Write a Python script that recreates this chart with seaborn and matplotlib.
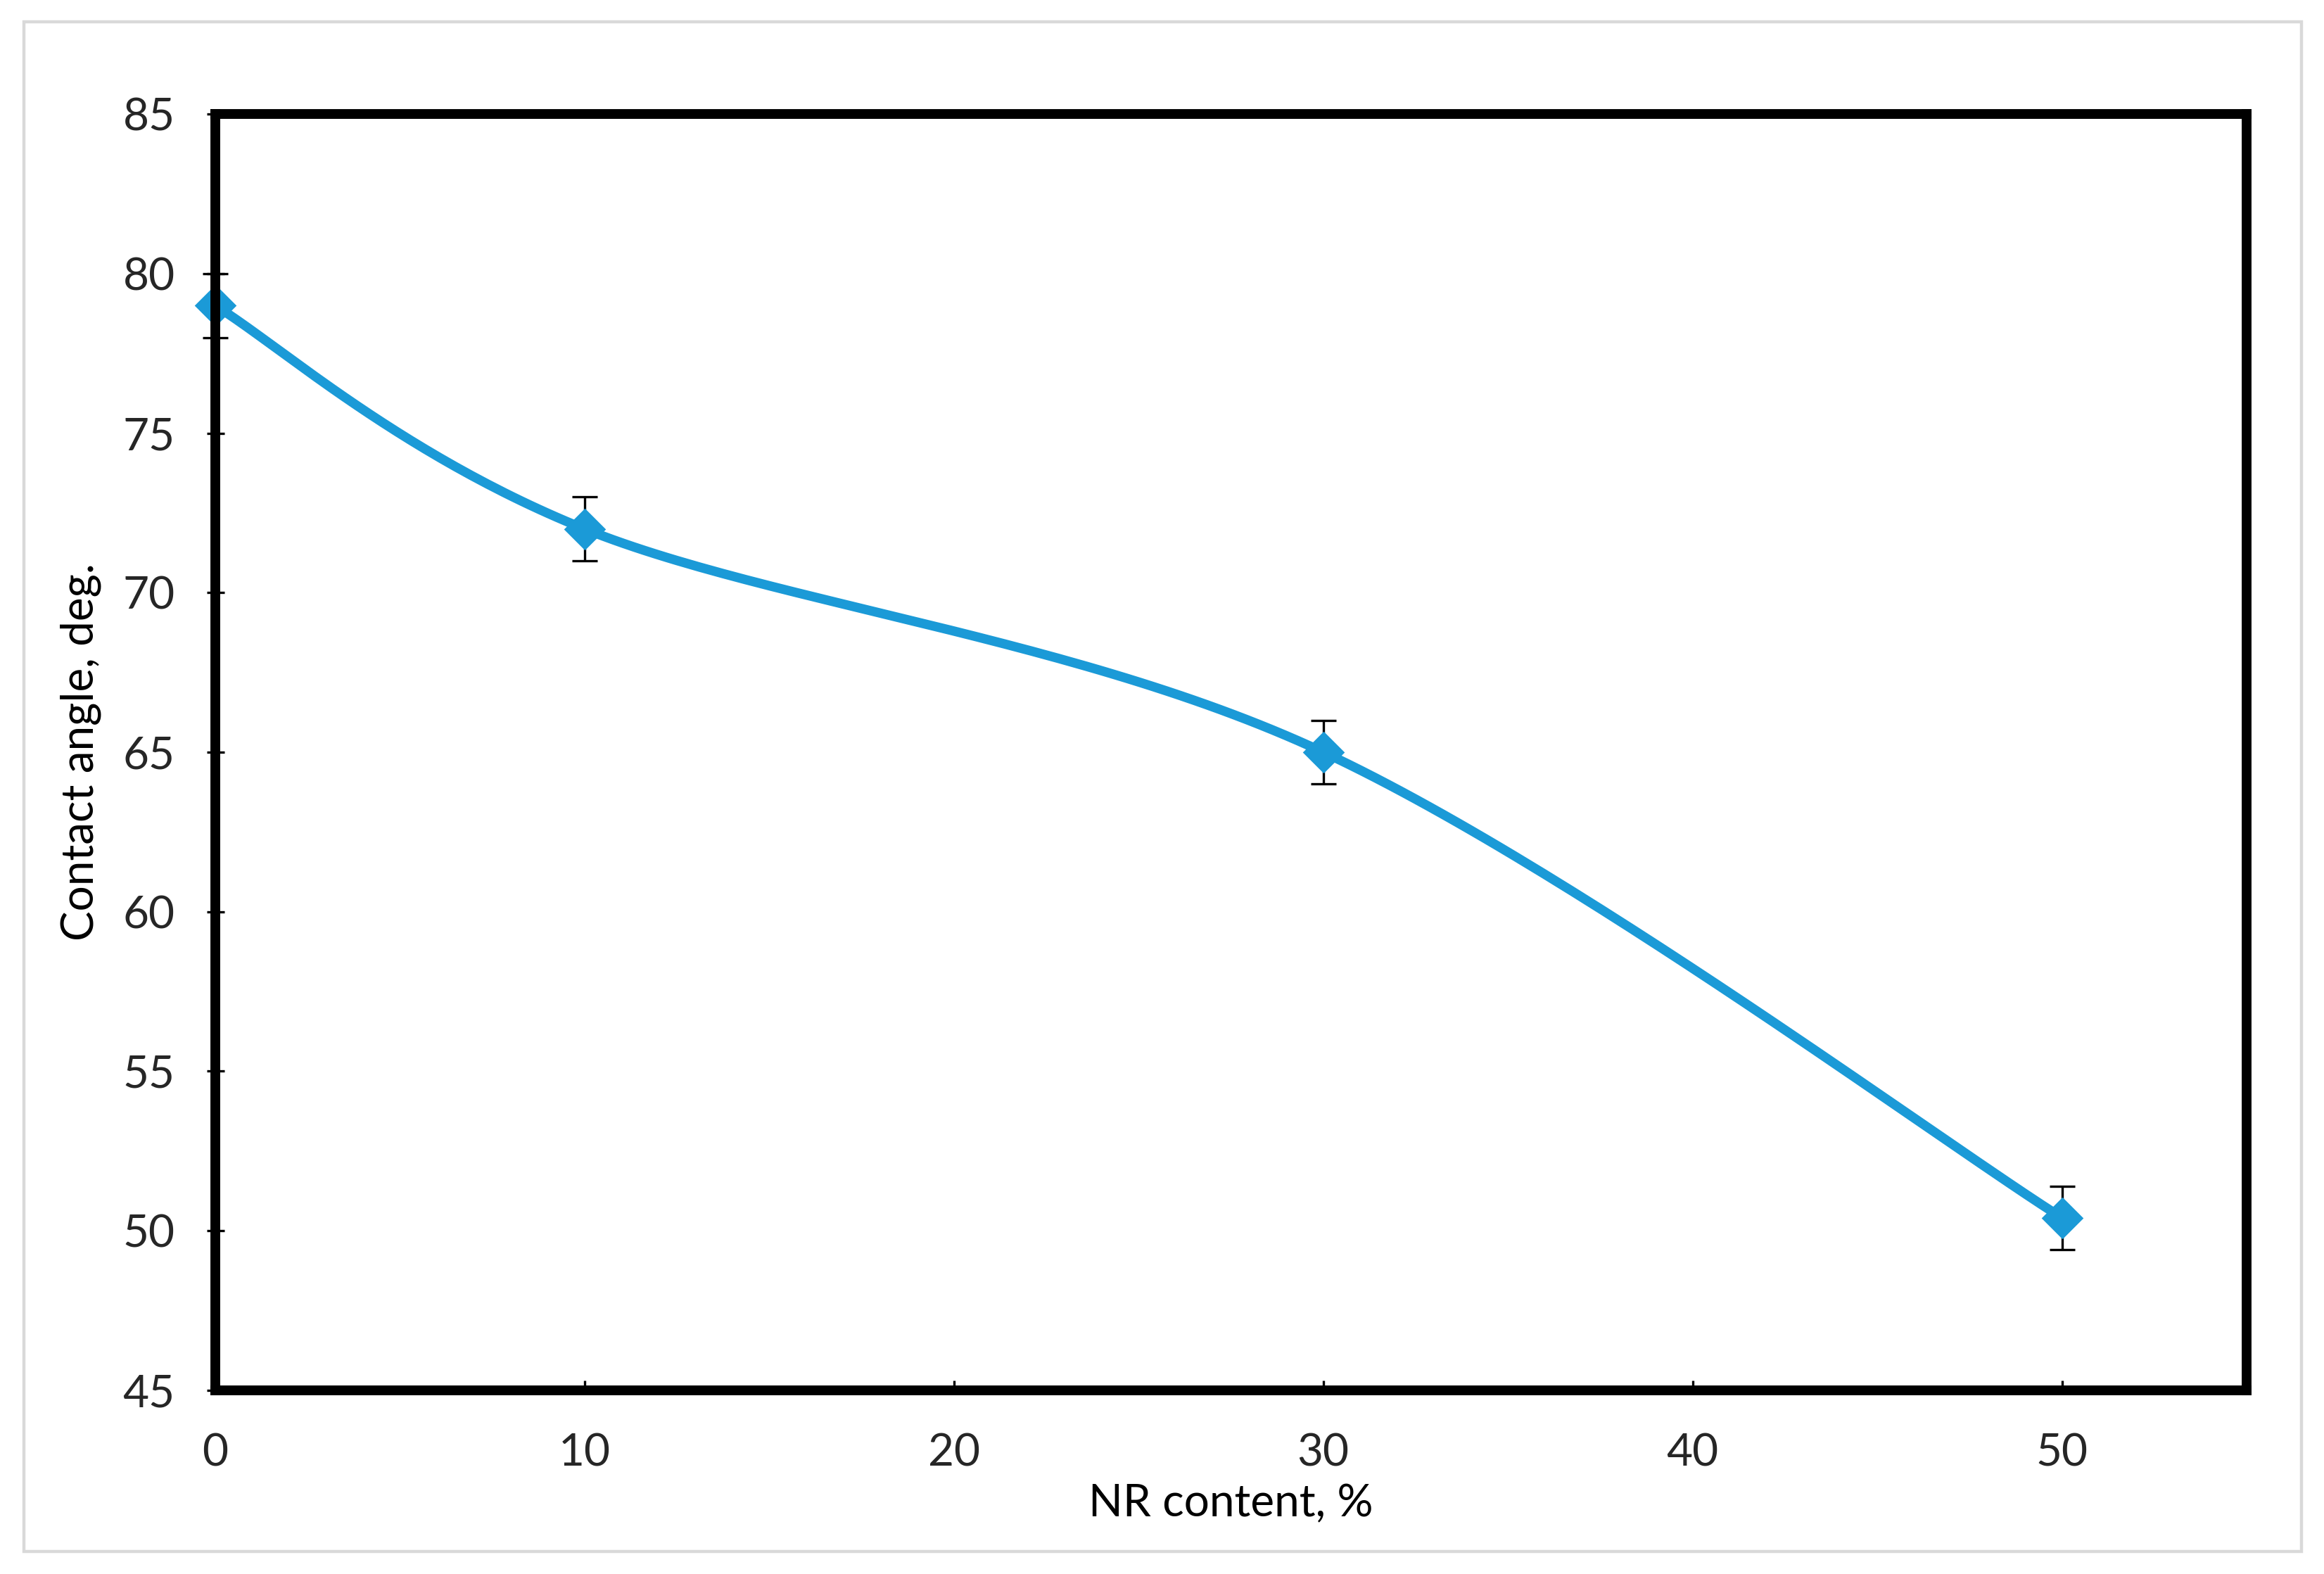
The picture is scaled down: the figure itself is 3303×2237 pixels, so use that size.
import numpy as np
import pandas as pd
import seaborn as sns
import matplotlib.pyplot as plt
from matplotlib.patches import Rectangle

# data
nr_content = [0, 10, 30, 50]
contact_angle = [79.0, 72.0, 65.0, 50.4]
angle_err = [1.0, 1.0, 1.0, 1.0]

df = pd.DataFrame({'nr': nr_content, 'angle': contact_angle, 'err': angle_err})

x_ticks = [0, 10, 20, 30, 40, 50]
y_ticks = [45, 50, 55, 60, 65, 70, 75, 80, 85]

blue = '#1b9ad7'

sns.set_theme(style='white')
plt.rcParams['font.family'] = ['Lato', 'DejaVu Sans']


def excel_smooth(xs, ys, sx, sy, n=60):
    # Catmull-Rom style bezier, done in pixel-like space like Excel's smoothed line
    px = np.asarray(xs, float) * sx
    py = np.asarray(ys, float) * sy
    pts = np.column_stack([px, py])
    ext = np.vstack([pts[0], pts, pts[-1]])
    out = []
    t = np.linspace(0, 1, n)[:, None]
    for i in range(len(pts) - 1):
        p0, p1, p2, p3 = ext[i], ext[i + 1], ext[i + 2], ext[i + 3]
        c1 = p1 + (p2 - p0) / 6
        c2 = p2 - (p3 - p1) / 6
        seg = ((1 - t) ** 3) * p1 + 3 * ((1 - t) ** 2) * t * c1 + 3 * (1 - t) * t ** 2 * c2 + t ** 3 * p2
        out.append(seg if i == 0 else seg[1:])
    out = np.vstack(out)
    return out[:, 0] / sx, out[:, 1] / sy


fig = plt.figure(figsize=(16.515, 11.185), dpi=200)
fig.patches.append(Rectangle((0.0102, 0.0141), 0.9802, 0.9719, transform=fig.transFigure,
                             fill=False, edgecolor='#d9d9d9', linewidth=1.6, zorder=0))
ax = fig.add_axes([0.0925, 0.1168, 0.8743, 0.8107])

# smoothed curve
sx = 0.8743 * 16.515 / 55
sy = 0.8107 * 11.185 / 40
cx, cy = excel_smooth(df['nr'], df['angle'], sx, sy)
sns.lineplot(x=cx, y=cy, ax=ax, color=blue, linewidth=4.8, sort=False, zorder=3)

ax.errorbar(df['nr'], df['angle'], yerr=df['err'], fmt='none', ecolor='black',
            elinewidth=1.2, capsize=6.5, capthick=1.2, zorder=2, clip_on=False)
sns.scatterplot(data=df, x='nr', y='angle', ax=ax, marker='D', s=230, color=blue,
                edgecolor=blue, linewidth=0, zorder=4, clip_on=False)

ax.set_xlim(0, 55)
ax.set_ylim(45, 85)
ax.set_xticks(x_ticks)
ax.set_yticks(y_ticks)

for sp in ax.spines.values():
    sp.set_visible(True)
    sp.set_color('black')
    sp.set_linewidth(5)
    sp.set_zorder(5)

ax.tick_params(axis='y', direction='inout', length=9, width=1.2, color='black',
               labelsize=23, pad=16, left=True)
ax.tick_params(axis='x', direction='in', length=5, width=1.2, color='black',
               labelsize=23, pad=22, bottom=True)

ax.set_xlabel('NR content, %', fontsize=23, labelpad=5, color='black')
ax.set_ylabel('Contact angle, deg.', fontsize=23, labelpad=11, color='black')

fig.savefig('out.png', dpi=200)
